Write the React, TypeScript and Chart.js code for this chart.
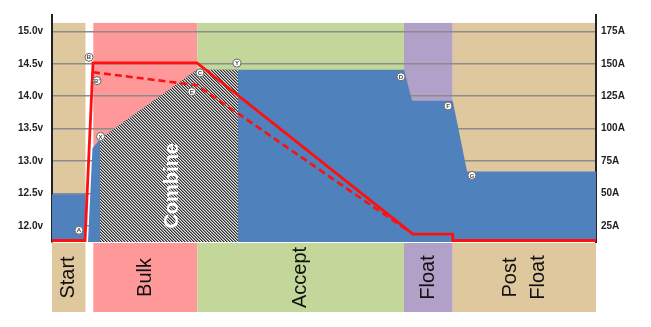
import React, { useEffect, useRef } from 'react';
import { Chart, registerables } from 'chart.js';
Chart.register(...registerables);

// Axis ticks
const voltTicks = [12.0, 12.5, 13.0, 13.5, 14.0, 14.5, 15.0];
const ampTicks = [25, 50, 75, 100, 125, 150, 175];
const voltMin = 11.754;
const voltMax = 15.252;
const ampMin = 25 + (voltMin - 12) * 50;
const ampMax = 25 + (voltMax - 12) * 50;
const bandTopVolt = 15.13;

// Charging phases (x in % of time)
const phaseNames = ['Start', '', 'Bulk', 'Accept', 'Float', 'Post\nFloat'];
const phaseStart = [0, 6.19, 7.59, 26.7, 64.7, 73.66];
const phaseEnd = [6.19, 7.59, 26.7, 64.7, 73.66, 100];
const phaseColors = ['#DFC89E', '#FFFFFF', '#FF9999', '#C4D79B', '#B1A0C7', '#DFC89E'];

// Charge current (A, right axis)
const currentX = [0, 6.19, 6.19, 6.62, 7.44, 8.82, 26.65, 64.7, 66.2, 73.66, 76.3, 100];
const currentA = [49.5, 49.5, 12.7, 12.7, 85, 92, 145.5, 145.5, 121.5, 121.5, 67, 67];

// Combine (hatched) region on the current curve
const combineX = [8.82, 26.65, 34.19];
const combineA = [92, 145.5, 145.5];
const combineLabel = 'Combine';
const combineLabelX = 22.1;
const combineLabelV = 12.62;

// Charge voltage (V, left axis)
const voltX = [0, 6.07, 7.54, 26.65, 66.36, 73.66, 73.66, 100];
const voltV = [11.777, 11.777, 14.515, 14.515, 11.875, 11.875, 11.777, 11.777];

// Temperature-compensated voltage (dashed)
const dashX = [7.54, 26.65, 66.36];
const dashV = [14.37, 14.17, 11.875];

// Marker points
const markerLabels = ['A', 'B', "B'", 'X', 'C', 'E', 'Y', 'D', 'F', 'G'];
const markerX = [4.96, 6.8, 8.27, 8.93, 27.2, 25.7, 34.0, 64.15, 72.8, 77.2];
const markerV = [11.935, 14.6, 14.24, 13.38, 14.36, 14.07, 14.51, 14.3, 13.85, 12.78];

const FONT = '"Liberation Sans", Arial, sans-serif';

const bandsPlugin = {
  id: 'bands',
  beforeDraw(chart: any) {
    const { ctx, chartArea, scales } = chart;
    const xs = scales.x;
    const ys = scales.y;
    const top = ys.getPixelForValue(bandTopVolt);
    const bottom = chartArea.bottom;
    ctx.save();
    phaseStart.forEach((s, i) => {
      const x0 = xs.getPixelForValue(s);
      const x1 = xs.getPixelForValue(phaseEnd[i]);
      ctx.fillStyle = phaseColors[i];
      ctx.fillRect(x0, top, x1 - x0, bottom - top);
      ctx.fillRect(x0, bottom + 1, x1 - x0, 69);
    });
    ctx.fillStyle = '#111';
    ctx.font = '20px ' + FONT;
    ctx.textAlign = 'center';
    ctx.textBaseline = 'middle';
    phaseNames.forEach((name, i) => {
      if (!name) return;
      const x0 = xs.getPixelForValue(phaseStart[i]);
      const x1 = xs.getPixelForValue(phaseEnd[i]);
      const lines = name.split('\n');
      ctx.save();
      ctx.translate((x0 + x1) / 2, bottom + 1 + 34.5);
      ctx.rotate(-Math.PI / 2);
      lines.forEach((ln, j) => ctx.fillText(ln, 0, (j - (lines.length - 1) / 2) * 28));
      ctx.restore();
    });
    ctx.restore();
  },
  afterDatasetsDraw(chart: any) {
    const { ctx, scales } = chart;
    const xs = scales.x;
    const ys = scales.y;
    ctx.save();
    // Combine label
    ctx.fillStyle = '#FFFFFF';
    ctx.font = 'bold 20px ' + FONT;
    ctx.textAlign = 'center';
    ctx.textBaseline = 'middle';
    ctx.translate(xs.getPixelForValue(combineLabelX), ys.getPixelForValue(combineLabelV));
    ctx.rotate(-Math.PI / 2);
    ctx.fillText(combineLabel, 0, 0);
    ctx.restore();
    // marker letters
    const idx = chart.data.datasets.findIndex((d: any) => d.label === 'markers');
    const meta = chart.getDatasetMeta(idx);
    ctx.save();
    ctx.fillStyle = '#444';
    ctx.font = 'bold 6px ' + FONT;
    ctx.textAlign = 'center';
    ctx.textBaseline = 'middle';
    meta.data.forEach((el: any, i: number) => {
      ctx.fillText(markerLabels[i], el.x, el.y + 0.5);
    });
    ctx.restore();
  },
};

export default function App() {
  const ref = useRef<HTMLCanvasElement>(null);
  useEffect(() => {
    const canvas = ref.current!;
    const ctx = canvas.getContext('2d')!;
    const pc = document.createElement('canvas');
    pc.width = 3;
    pc.height = 3;
    const p = pc.getContext('2d')!;
    p.fillStyle = '#e6e6e6';
    p.fillRect(0, 0, 3, 3);
    for (let i = 0; i < 3; i++) {
      p.fillStyle = '#2e2e2e';
      p.fillRect(i, i, 1, 1);
      p.fillStyle = '#8a8a8a';
      p.fillRect((i + 1) % 3, i, 1, 1);
    }
    const pattern = ctx.createPattern(pc, 'repeat');

    const chart = new Chart(ctx, {
      type: 'line',
      data: {
        datasets: [
          {
            label: 'markers',
            data: markerX.map((x, i) => ({ x, y: markerV[i] })),
            yAxisID: 'y',
            showLine: false,
            pointRadius: 4,
            pointBackgroundColor: '#FFFFFF',
            pointBorderColor: '#666',
            pointBorderWidth: 1,
            order: 1,
          } as any,
          {
            label: 'dashed',
            data: dashX.map((x, i) => ({ x, y: dashV[i] })),
            yAxisID: 'y',
            borderColor: '#FF1010',
            borderWidth: 2.6,
            borderDash: [7, 4],
            pointRadius: 0,
            fill: false,
            order: 2,
          },
          {
            label: 'voltage',
            data: voltX.map((x, i) => ({ x, y: voltV[i] })),
            yAxisID: 'y',
            borderColor: '#FF1010',
            borderWidth: 2.8,
            pointRadius: 0,
            fill: false,
            order: 3,
            clip: false,
          } as any,
          {
            label: 'combine',
            data: combineX.map((x, i) => ({ x, y: combineA[i] })),
            yAxisID: 'yA',
            borderWidth: 0,
            borderColor: 'rgba(0,0,0,0)',
            backgroundColor: pattern as any,
            pointRadius: 0,
            fill: 'start',
            order: 4,
          },
          {
            label: 'current',
            data: currentX.map((x, i) => ({ x, y: currentA[i] })),
            yAxisID: 'yA',
            borderWidth: 0,
            borderColor: 'rgba(0,0,0,0)',
            backgroundColor: '#4F81BD',
            pointRadius: 0,
            fill: 'start',
            order: 5,
          },
        ],
      },
      options: {
        responsive: false,
        maintainAspectRatio: false,
        animation: false,
        events: [],
        layout: { padding: { top: 10, bottom: 85, left: 0, right: 0 } },
        plugins: { legend: { display: false }, tooltip: { enabled: false } },
        scales: {
          x: { type: 'linear', min: 0, max: 100, display: false },
          y: {
            position: 'left',
            min: voltMin,
            max: voltMax,
            afterBuildTicks: (s: any) => {
              s.ticks = voltTicks.map((v) => ({ value: v }));
            },
            afterFit: (s: any) => {
              s.width = 52;
            },
            grid: { color: '#8c8c8c', lineWidth: 1.5, drawTicks: false },
            border: { display: true, color: '#222', width: 2 },
            ticks: {
              padding: 9,
              color: '#222',
              font: { family: FONT, size: 10, weight: 'bold' },
              callback: (v: any) => Number(v).toFixed(1) + 'v',
            },
          },
          yA: {
            position: 'right',
            min: ampMin,
            max: ampMax,
            afterBuildTicks: (s: any) => {
              s.ticks = ampTicks.map((v) => ({ value: v }));
            },
            afterFit: (s: any) => {
              s.width = 55;
            },
            grid: { drawOnChartArea: false, drawTicks: false },
            border: { display: true, color: '#222', width: 2 },
            ticks: {
              padding: 5,
              color: '#222',
              font: { family: FONT, size: 10, weight: 'bold' },
              callback: (v: any) => v + 'A',
            },
          },
        },
      } as any,
      plugins: [bandsPlugin],
    });
    return () => chart.destroy();
  }, []);
  return (
    <div style={{ position: 'fixed', left: 0, top: 0, width: 651, height: 327, background: '#fff' }}>
      <canvas ref={ref} width={651} height={327} style={{ display: 'block' }} />
    </div>
  );
}
